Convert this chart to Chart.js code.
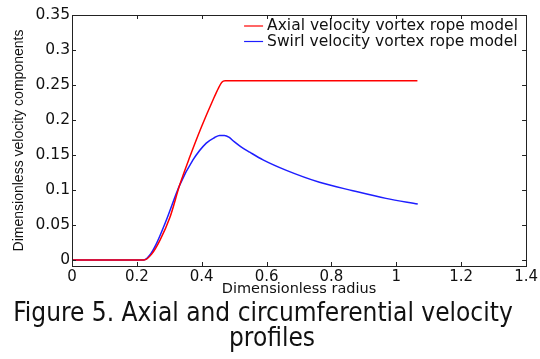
<!DOCTYPE html>
<html>
<head>
<meta charset="utf-8">
<title>Axial and circumferential velocity profiles</title>
<script src="https://cdn.jsdelivr.net/npm/chart.js@4.4.0/dist/chart.umd.min.js"></script>
<style>
  html, body { margin: 0; padding: 0; background: #fff; }
  #wrap { position: relative; width: 540px; height: 359px; }
  .cap {
    position: absolute; width: 540px;
    text-align: center; color: #111; white-space: nowrap;
    font-family: "DejaVu Sans Condensed", "DejaVu Sans", sans-serif;
    font-size: 26px; line-height: 25px;
  }
  #cap1 { left: -7px; top: 300px; }
  #cap2 { left: 2px; top: 325px; }
</style>
</head>
<body>
<div id="wrap">
  <canvas id="chartVelocity" width="540" height="359"></canvas>
  <div class="cap" id="cap1">Figure 5. Axial and circumferential velocity</div>
  <div class="cap" id="cap2">profiles</div>
</div>
<script>
'use strict';

// values
const axialR = [0, 0.222, 0.245, 0.271, 0.302, 0.332, 0.363, 0.399, 0.435, 0.452, 0.462, 0.472, 1.065];
const axialV = [0, 0, 0.008, 0.028, 0.061, 0.107, 0.147, 0.190, 0.229, 0.246, 0.254, 0.256, 0.256];

const swirlR = [0, 0.222, 0.240, 0.260, 0.291, 0.332, 0.373, 0.414, 0.440, 0.455, 0.470, 0.485, 0.500, 0.520, 0.548, 0.589, 0.661, 0.763, 0.866, 0.968, 1.066];
const swirlV = [0, 0, 0.007, 0.023, 0.057, 0.107, 0.143, 0.167, 0.175, 0.178, 0.178, 0.175, 0.169, 0.162, 0.154, 0.143, 0.128, 0.111, 0.099, 0.088, 0.080];

const seriesLabels = ['Axial velocity vortex rope model', 'Swirl velocity vortex rope model'];
const xTicks = [0, 0.2, 0.4, 0.6, 0.8, 1, 1.2, 1.4];
const yTicks = [0, 0.05, 0.1, 0.15, 0.2, 0.25, 0.3, 0.35];

function toPoints(xs, ys) {
  return xs.map(function(x, i) { return {x: x, y: ys[i]}; });
}
function fmt(v) {
  return String(parseFloat(v.toFixed(2)));
}

// frame, inward ticks and the legend, MATLAB style
const matlabBox = {
  id: 'matlabBox',
  afterDraw: function(chart) {
    const ctx = chart.ctx;
    const a = chart.chartArea;
    const xs = chart.scales.x, ys = chart.scales.y;
    ctx.save();
    ctx.strokeStyle = '#222';
    ctx.lineWidth = 1;
    ctx.beginPath();
    xTicks.forEach(function(v) {
      const px = Math.round(xs.getPixelForValue(v)) + 0.5;
      ctx.moveTo(px, a.bottom); ctx.lineTo(px, a.bottom - 4);
      ctx.moveTo(px, a.top); ctx.lineTo(px, a.top + 4);
    });
    yTicks.forEach(function(v) {
      const py = Math.round(ys.getPixelForValue(v)) + 0.5;
      ctx.moveTo(a.left, py); ctx.lineTo(a.left + 4, py);
      ctx.moveTo(a.right, py); ctx.lineTo(a.right - 4, py);
    });
    ctx.stroke();
    ctx.strokeRect(Math.round(a.left) + 0.5, Math.round(a.top) + 0.5,
                   Math.round(a.right - a.left), Math.round(a.bottom - a.top));

    // legend
    ctx.font = '15.5px "DejaVu Sans"';
    ctx.textBaseline = 'middle';
    ctx.textAlign = 'left';
    chart.data.datasets.forEach(function(ds, i) {
      const y = a.top + 11 + i * 15.5;
      ctx.strokeStyle = ds.borderColor;
      ctx.lineWidth = 1.2;
      ctx.beginPath();
      ctx.moveTo(a.right - 282, y); ctx.lineTo(a.right - 263, y);
      ctx.stroke();
      ctx.fillStyle = '#111';
      ctx.fillText(ds.label, a.right - 259, y);
    });
    ctx.restore();
  }
};

const config = {
  type: 'line',
  data: {
    datasets: [
      {
        label: seriesLabels[0],
        data: toPoints(axialR, axialV),
        borderColor: 'rgb(255, 0, 0)',
        borderWidth: 1.5,
        pointRadius: 0,
        cubicInterpolationMode: 'monotone',
        fill: false
      },
      {
        label: seriesLabels[1],
        data: toPoints(swirlR, swirlV),
        borderColor: 'rgb(30, 30, 255)',
        borderWidth: 1.5,
        pointRadius: 0,
        cubicInterpolationMode: 'monotone',
        fill: false
      }
    ]
  },
  options: {
    responsive: false,
    animation: false,
    devicePixelRatio: 1,
    layout: { padding: { left: 0, top: 15, right: 13, bottom: 60 } },
    plugins: {
      legend: { display: false },
      tooltip: { enabled: false }
    },
    scales: {
      x: {
        type: 'linear',
        min: 0,
        max: 1.4,
        afterBuildTicks: function(scale) {
          scale.ticks = xTicks.map(function(v) { return {value: v}; });
        },
        afterFit: function(scale) { scale.height = 33; },
        grid: { display: false, drawTicks: false },
        border: { display: false },
        ticks: {
          color: '#111',
          padding: 2,
          maxRotation: 0,
          font: { family: '"DejaVu Sans"', size: 15 },
          callback: function(v) { return fmt(v); }
        },
        title: {
          display: true,
          text: 'Dimensionless radius',
          color: '#111',
          padding: { top: 0, bottom: 1 },
          font: { family: '"DejaVu Sans"', size: 14.5 }
        }
      },
      y: {
        type: 'linear',
        min: -0.0086,
        max: 0.35,
        afterBuildTicks: function(scale) {
          scale.ticks = yTicks.map(function(v) { return {value: v}; });
        },
        afterFit: function(scale) { scale.width = 72; },
        grid: { display: false, drawTicks: false },
        border: { display: false },
        ticks: {
          color: '#111',
          padding: 2,
          font: { family: '"DejaVu Sans"', size: 15.5 },
          callback: function(v) { return fmt(v); }
        },
        title: {
          display: true,
          text: 'Dimensionless velocity components',
          color: '#111',
          padding: { top: 11, bottom: 0 },
          font: { family: '"Liberation Sans"', size: 14 }
        }
      }
    }
  },
  plugins: [matlabBox]
};

const chartVelocity = new Chart(document.getElementById('chartVelocity'), config);
</script>
</body>
</html>
